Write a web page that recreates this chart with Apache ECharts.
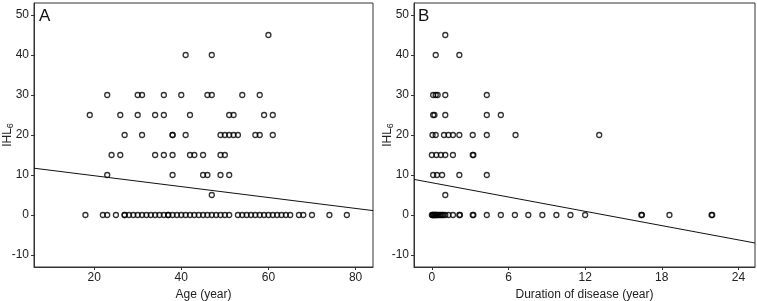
<!DOCTYPE html>
<html>
<head>
<meta charset="utf-8">
<script src="https://cdn.jsdelivr.net/npm/echarts@6/dist/echarts.min.js"></script>
<style>
  html, body { margin: 0; padding: 0; background: #fff; }
  #chart { width: 757px; height: 301px; }
</style>
</head>
<body>
<div id="chart"></div>
<script>
// IHL6 levels (rows of points)
var levels = [45, 40, 30, 25, 20, 15, 10, 5, 0];

// panel A: age of each point, by IHL6 level
var ageAt45 = [60];
var ageAt40 = [41, 47];
var ageAt30 = [23, 30, 31, 36, 40, 46, 47, 54, 58];
var ageAt25 = [19, 26, 30, 34, 36, 42, 51, 52, 59, 61];
var ageAt20 = [27, 31, 38, 38, 41, 49, 50, 51, 52, 53, 57, 58, 61];
var ageAt15 = [24, 26, 34, 36, 38, 42, 43, 45, 49, 50];
var ageAt10 = [23, 38, 45, 46, 49, 51];
var ageAt5 = [47];
var ageAt0 = [18, 22, 23, 25, 27, 27, 28, 29, 30, 31, 32, 33, 34, 35, 36, 37, 37, 38, 39, 40,
              41, 42, 43, 44, 45, 46, 47, 48, 49, 50, 51, 53, 54, 55, 56, 57, 58, 59, 60, 61,
              62, 63, 64, 65, 67, 68, 70, 74, 78];
var ageFit = [[6.2, 11.7], [84, 1.1]];

// panel B: duration of disease of each point, by IHL6 level
var durAt45 = [1.05];
var durAt40 = [0.3, 2.15];
var durAt30 = [0.1, 0.3, 0.45, 1.05, 4.3];
var durAt25 = [0.1, 0.2, 1.05, 4.3, 5.4];
var durAt20 = [0.05, 0.3, 0.95, 1.3, 1.65, 2.15, 3.2, 4.3, 6.55, 13.1];
var durAt15 = [0, 0.35, 0.7, 1.05, 1.65, 3.2, 3.25];
var durAt10 = [0.1, 0.4, 0.8, 2.15, 4.3];
var durAt5 = [1.05];
var durAt0 = [0, 0.05, 0.1, 0.15, 0.2, 0.25, 0.3, 0.35, 0.4, 0.5, 0.6, 0.7, 0.8, 0.9, 1.05,
              1.3, 1.65, 2.15, 2.2, 3.2, 3.25, 4.3, 5.4, 6.5, 7.55, 8.65, 9.75, 10.85, 12.0,
              16.4, 16.45, 18.6, 21.9, 21.95];
var durFit = [[-1.4, 8.9], [25.3, -7.0]];

// tick labels
var yTicks = [-10, 0, 10, 20, 30, 40, 50];
var ageTicks = [20, 40, 60, 80];
var durTicks = [0, 6, 12, 18, 24];

function toPoints(rows) {
    var pts = [];
    rows.forEach(function (xs, i) {
        xs.forEach(function (x) { pts.push([x, levels[i]]); });
    });
    return pts;
}
var agePoints = toPoints([ageAt45, ageAt40, ageAt30, ageAt25, ageAt20, ageAt15, ageAt10, ageAt5, ageAt0]);
var durPoints = toPoints([durAt45, durAt40, durAt30, durAt25, durAt20, durAt15, durAt10, durAt5, durAt0]);

var font = 'Liberation Sans, Arial, Helvetica, sans-serif';
var ink = '#222';

function xAx(gridIndex, min, max, ticks, name) {
    return {
        type: 'value', gridIndex: gridIndex, min: min, max: max,
        name: name, nameLocation: 'middle', nameGap: 20,
        nameTextStyle: { color: ink, fontSize: 12, fontFamily: font },
        axisLine: { show: true, onZero: false, lineStyle: { color: '#333', width: 1 } },
        axisTick: { show: true, length: 3, customValues: ticks, lineStyle: { color: '#333' } },
        axisLabel: { customValues: ticks, margin: 5, color: ink, fontSize: 12, fontFamily: font },
        splitLine: { show: false }
    };
}
function yAx(gridIndex) {
    return {
        type: 'value', gridIndex: gridIndex, min: -13, max: 53,
        name: 'IHL{sub|6}', nameLocation: 'middle', nameGap: 19, nameMoveOverlap: false,
        nameTextStyle: {
            color: ink, fontSize: 12, fontFamily: font,
            rich: { sub: { fontSize: 9, fontFamily: font, color: ink, padding: [6, 0, 0, 0] } }
        },
        axisLine: { show: true, onZero: false, lineStyle: { color: '#333', width: 1 } },
        axisTick: { show: true, length: 3, customValues: yTicks, lineStyle: { color: '#333' } },
        axisLabel: { customValues: yTicks, margin: 5, color: ink, fontSize: 12, fontFamily: font },
        splitLine: { show: false }
    };
}
function dots(i, data) {
    return {
        type: 'scatter', xAxisIndex: i, yAxisIndex: i, data: data,
        symbol: 'circle', symbolSize: 5, silent: true,
        itemStyle: { color: 'rgba(0,0,0,0)', borderColor: '#000', borderWidth: 1.3 }
    };
}
function fit(i, data) {
    return {
        type: 'line', xAxisIndex: i, yAxisIndex: i, data: data,
        showSymbol: false, silent: true,
        lineStyle: { color: '#111', width: 1 }
    };
}

var chart = echarts.init(document.getElementById('chart'));
chart.setOption({
    animation: false,
    backgroundColor: '#fff',
    grid: [
        { left: 34, top: 3, width: 339, height: 264, show: true, borderColor: '#333', borderWidth: 1, outerBoundsMode: 'none' },
        { left: 414, top: 3, width: 341, height: 264, show: true, borderColor: '#333', borderWidth: 1, outerBoundsMode: 'none' }
    ],
    xAxis: [
        xAx(0, 6.2, 84, ageTicks, 'Age (year)'),
        xAx(1, -1.4, 25.3, durTicks, 'Duration of disease (year)')
    ],
    yAxis: [yAx(0), yAx(1)],
    graphic: [
        { type: 'text', left: 39, top: 8, style: { text: 'A', fontSize: 17, fontFamily: font, fill: '#111' } },
        { type: 'text', left: 418, top: 8, style: { text: 'B', fontSize: 17, fontFamily: font, fill: '#111' } }
    ],
    series: [
        dots(0, agePoints), fit(0, ageFit),
        dots(1, durPoints), fit(1, durFit)
    ]
});
</script>
</body>
</html>
